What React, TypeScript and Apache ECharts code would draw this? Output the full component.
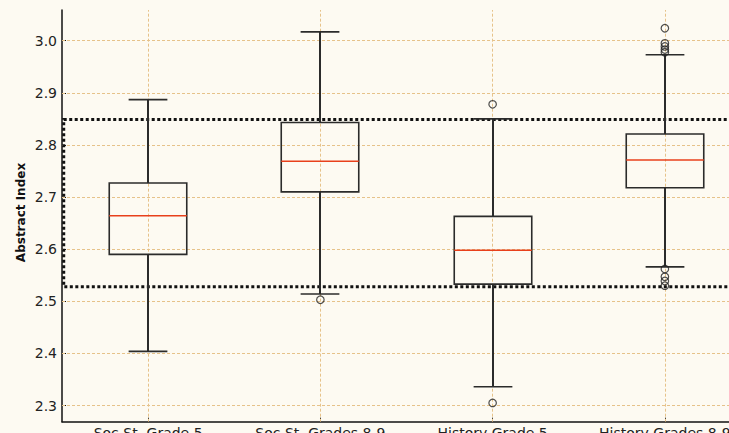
import React, { useEffect, useRef } from "react";
import * as echarts from "echarts";

const categories = ["Soc St. Grade 5", "Soc St. Grades 8-9", "History Grade 5", "History Grades 8-9"];
const whiskerLow = [2.404, 2.514, 2.336, 2.566];
const q1 = [2.59, 2.71, 2.533, 2.718];
const median = [2.664, 2.769, 2.598, 2.771];
const q3 = [2.727, 2.843, 2.663, 2.821];
const whiskerHigh = [2.887, 3.017, 2.85, 2.973];
const outliers: number[][] = [
  [],
  [2.503],
  [2.878, 2.305],
  [3.024, 2.995, 2.989, 2.983, 2.978, 2.562, 2.547, 2.539, 2.53],
];
const bandLow = 2.528;
const bandHigh = 2.849;
const yTicks = [2.3, 2.4, 2.5, 2.6, 2.7, 2.8, 2.9, 3.0];
const yMin = 2.269;
const yMax = 3.059;

const FONT = "DejaVu Sans";
const BG = "#fdfaf2";
const GRID = "#e6c28a";
const BOX = "#2b2b2b";
const MED = "#e8401c";

export default function App() {
  const ref = useRef<HTMLDivElement>(null);
  useEffect(() => {
    if (!ref.current) return;
    const chart = echarts.init(ref.current, null, { renderer: "svg" });

    const boxData = categories.map((_, i) => [i, whiskerLow[i], q1[i], median[i], q3[i], whiskerHigh[i]]);
    const outlierData: any[] = [];
    outliers.forEach((arr, i) => arr.forEach((v) => outlierData.push([categories[i], v])));

    const option: any = {
      animation: false,
      backgroundColor: BG,
      grid: { left: 62, top: 10, width: 689, height: 411.7, containLabel: false, outerBoundsMode: "none" },
      xAxis: {
        type: "category",
        data: categories,
        boundaryGap: true,
        axisLine: { show: true, lineStyle: { color: "#111", width: 1.5 } },
        axisTick: { show: true, inside: true, alignWithLabel: true, length: 4, lineStyle: { color: "#111", width: 1 } },
        axisLabel: { color: "#222", fontSize: 14, fontFamily: FONT, margin: 4, interval: 0 },
        splitLine: { show: false },
      },
      yAxis: {
        type: "value",
        min: yMin,
        max: yMax,
        axisLine: { show: true, lineStyle: { color: "#111", width: 1.5 } },
        axisTick: { show: true, inside: true, length: 4, customValues: yTicks, lineStyle: { color: "#111", width: 1 } },
        axisLabel: {
          color: "#222",
          fontSize: 14,
          fontFamily: FONT,
          margin: 5,
          customValues: yTicks,
          formatter: (v: number) => v.toFixed(1),
        },
        splitLine: { show: false },
      },
      graphic: [
        {
          type: "text",
          x: 21,
          y: 212.5,
          rotation: Math.PI / 2,
          style: {
            text: "Abstract Index",
            fontFamily: FONT,
            fontWeight: "bold",
            fontSize: 12,
            fill: "#111",
            align: "center",
            verticalAlign: "middle",
          },
        },
      ],
      series: [
        {
          type: "line",
          data: [],
          silent: true,
          z: 1,
          markLine: {
            z: 1,
            silent: true,
            symbol: "none",
            label: { show: false },
            lineStyle: { color: GRID, type: [3, 2], width: 1 },
            data: [
              ...yTicks.map((v) => ({ yAxis: v })),
              ...categories.map((c) => ({ xAxis: c })),
            ],
          },
        },
        {
          type: "custom",
          z: 3,
          data: [[bandLow, bandHigh]],
          clip: false,
          silent: true,
          renderItem: (params: any, api: any) => {
            const lo = api.coord([0, api.value(0)]);
            const hi = api.coord([0, api.value(1)]);
            const band = api.size([1, 0])[0];
            const x0 = lo[0] - band * 0.49;
            const x1 = lo[0] + band * 4;
            return {
              type: "rect",
              shape: { x: x0, y: hi[1], width: x1 - x0, height: lo[1] - hi[1] },
              style: { fill: "none", stroke: "#111", lineWidth: 3, lineDash: [3, 2.5] },
            };
          },
        },
        {
          type: "custom",
          z: 6,
          data: boxData,
          encode: { x: 0, y: [1, 2, 3, 4, 5] },
          silent: true,
          renderItem: (params: any, api: any) => {
            const idx = api.value(0);
            const band = api.size([1, 0])[0];
            const bw = band * 0.45;
            const cw = bw * 0.5;
            const pLow = api.coord([idx, api.value(1)]);
            const pQ1 = api.coord([idx, api.value(2)]);
            const pMed = api.coord([idx, api.value(3)]);
            const pQ3 = api.coord([idx, api.value(4)]);
            const pHigh = api.coord([idx, api.value(5)]);
            const cx = Math.round(pMed[0]);
            const ls = { stroke: BOX, lineWidth: 1.6, fill: "none" };
            const ws = { stroke: BOX, lineWidth: 2, fill: "none" };
            return {
              type: "group",
              children: [
                { type: "line", shape: { x1: cx, y1: pQ1[1], x2: cx, y2: pLow[1] }, style: ws },
                { type: "line", shape: { x1: cx, y1: pQ3[1], x2: cx, y2: pHigh[1] }, style: ws },
                { type: "line", shape: { x1: cx - cw / 2, y1: pLow[1], x2: cx + cw / 2, y2: pLow[1] }, style: ls },
                { type: "line", shape: { x1: cx - cw / 2, y1: pHigh[1], x2: cx + cw / 2, y2: pHigh[1] }, style: ls },
                { type: "rect", shape: { x: cx - bw / 2, y: pQ3[1], width: bw, height: pQ1[1] - pQ3[1] }, style: ls },
                { type: "line", shape: { x1: cx - bw / 2, y1: pMed[1], x2: cx + bw / 2, y2: pMed[1] }, style: { stroke: MED, lineWidth: 1.5 } },
              ],
            };
          },
        },
        {
          type: "scatter",
          z: 7,
          data: outlierData,
          symbol: "circle",
          symbolSize: 7.5,
          silent: true,
          itemStyle: { color: "rgba(0,0,0,0)", borderColor: "#222", borderWidth: 1.2 },
        },
      ],
    };
    chart.setOption(option);
    return () => chart.dispose();
  }, []);
  return (
    <div
      ref={ref}
      style={{ position: "absolute", left: 0, top: 0, width: 729, height: 433, background: BG }}
    />
  );
}
